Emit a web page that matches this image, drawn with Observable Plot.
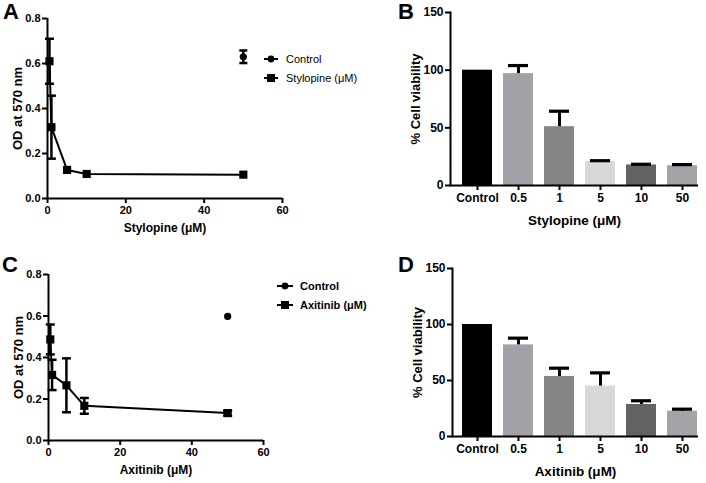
<!DOCTYPE html>
<html><head><meta charset="utf-8">
<script src="https://cdn.jsdelivr.net/npm/d3@7"></script>
<script src="https://cdn.jsdelivr.net/npm/@observablehq/plot@0.6"></script>
<style>
body{margin:0;background:#fff;font-family:"Liberation Sans",Arial,sans-serif;}
#fig{position:relative;width:706px;height:483px;overflow:hidden;background:#fff;}
.panel{position:absolute;}
.letter{position:absolute;font-weight:bold;font-size:22px;line-height:1;color:#000;}
.lrow{position:absolute;height:14px;display:flex;align-items:center;font-size:11px;color:#000;white-space:nowrap;}
</style></head><body><div id="fig"></div>
<script>
// ---- Data ----
// Panel A: Stylopine OD
const styConc = [0.5, 1, 5, 10, 50];
const styOD = [0.61, 0.317, 0.127, 0.109, 0.106];
const styErr = [0.10, 0.14, 0, 0, 0];
const ctrlAConc = [50];
const ctrlAOD = [0.63];
const ctrlAErr = [0.028];
// Panel C: Axitinib OD
const axConc = [0.5, 1, 5, 10, 50];
const axOD = [0.487, 0.316, 0.266, 0.167, 0.132];
const axErr = [0.072, 0.073, 0.13, 0.038, 0.012];
const ctrlCConc = [50];
const ctrlCOD = [0.598];
const ctrlCErr = [0];
// Panels B, D: viability
const categories = ["Control", "0.5", "1", "5", "10", "50"];
const styViab = [100, 97, 51, 20.7, 17.8, 17.2];
const styViabErr = [0, 7, 13.4, 0.8, 0.6, 0.9];
const axViab = [100, 81.8, 53.6, 45, 28.6, 22.6];
const axViabErr = [0, 6, 7.4, 11.8, 3.3, 1.8];
const barColors = ["#000000", "#a1a1a7", "#858585", "#d8d8d8", "#626262", "#a3a3a8"];
const odTicks = [0, 0.2, 0.4, 0.6, 0.8];
const concTicks = [0, 20, 40, 60];
const viabTicks = [0, 50, 100, 150];

const FONT = '"Liberation Sans", Arial, sans-serif';
const fig = document.getElementById("fig");

const capSym = {draw(ctx, size) { const w = Math.sqrt(size / Math.PI); ctx.moveTo(-w, 0); ctx.lineTo(w, 0); }};

function zipLine(c, v, e) { return c.map((x, i) => ({c: x, v: v[i], e: e[i]})); }

function linePanel({series, ctrl, xLabel, w, h, ml, mr, mt, mb}) {
  const errS = series.filter(d => d.e > 0);
  const errC = ctrl.filter(d => d.e > 0);
  return Plot.plot({
    width: w, height: h, marginLeft: ml, marginRight: mr, marginTop: mt, marginBottom: mb,
    style: {fontFamily: FONT, fontSize: "11px", fontWeight: "bold", color: "#000", background: "transparent", overflow: "visible"},
    x: {domain: [0, 60]},
    y: {domain: [0, 0.8]},
    marks: [
      Plot.axisX({ticks: concTicks, tickSize: 5, tickPadding: 3, strokeWidth: 2, label: null}),
      Plot.axisY({ticks: odTicks, tickFormat: d3.format(".1f"), tickSize: 5, tickPadding: 2, strokeWidth: 2, label: null}),
      Plot.ruleX([0], {strokeWidth: 2}),
      Plot.ruleY([0], {strokeWidth: 2}),
      Plot.line(series, {x: "c", y: "v", stroke: "#000", strokeWidth: 2}),
      Plot.ruleX(errS, {x: "c", y1: d => d.v - d.e, y2: d => d.v + d.e, stroke: "#000", strokeWidth: 2.5}),
      Plot.dot(errS, {x: "c", y: d => d.v + d.e, symbol: capSym, r: 4.5, stroke: "#000", fill: "none", strokeWidth: 2.5}),
      Plot.dot(errS, {x: "c", y: d => d.v - d.e, symbol: capSym, r: 4.5, stroke: "#000", fill: "none", strokeWidth: 2.5}),
      Plot.dot(series, {x: "c", y: "v", symbol: "square", r: 4.6, fill: "#000", stroke: "none"}),
      Plot.ruleX(errC, {x: "c", y1: d => d.v - d.e, y2: d => d.v + d.e, stroke: "#000", strokeWidth: 2.5}),
      Plot.dot(errC, {x: "c", y: d => d.v + d.e, symbol: capSym, r: 4, stroke: "#000", fill: "none", strokeWidth: 2.5}),
      Plot.dot(errC, {x: "c", y: d => d.v - d.e, symbol: capSym, r: 4, stroke: "#000", fill: "none", strokeWidth: 2.5}),
      Plot.dot(ctrl, {x: "c", y: "v", symbol: "circle", r: 3.6, fill: "#000", stroke: "none"}),
      Plot.text([xLabel], {text: d => d, frameAnchor: "bottom", dy: 30, lineAnchor: "middle", textAnchor: "middle", fontSize: 12, fontWeight: "bold"}),
      Plot.text(["OD at 570 nm"], {text: d => d, frameAnchor: "left", rotate: -90, dx: -30, textAnchor: "middle", lineAnchor: "middle", fontSize: 13, fontWeight: "bold"})
    ]
  });
}

function barPanel({vals, errs, xLabel, w, h, ml, mr, mt, mb}) {
  const rows = categories.map((c, i) => ({cat: c, v: vals[i], e: errs[i], col: barColors[i]}));
  const er = rows.filter(d => d.e > 0);
  return Plot.plot({
    width: w, height: h, marginLeft: ml, marginRight: mr, marginTop: mt, marginBottom: mb,
    style: {fontFamily: FONT, fontSize: "12px", fontWeight: "bold", color: "#000", background: "transparent", overflow: "visible"},
    x: {type: "band", domain: categories, paddingInner: 0.28, paddingOuter: 0.096, align: 0.875},
    y: {domain: [0, 150]},
    color: {type: "identity"},
    marks: [
      Plot.barY(rows, {x: "cat", y: "v", fill: "col"}),
      Plot.ruleX(er, {x: "cat", y1: "v", y2: d => d.v + d.e, stroke: "#000", strokeWidth: 3}),
      Plot.tickY(er, {x: "cat", y: d => d.v + d.e, stroke: "#000", strokeWidth: 3.2, inset: 5}),
      Plot.axisX({tickSize: 5, tickPadding: 3, strokeWidth: 2, label: null}),
      Plot.axisY({ticks: viabTicks, tickSize: 5, tickPadding: 2, strokeWidth: 2, label: null}),
      Plot.frame({anchor: "left", strokeWidth: 2}),
      Plot.ruleY([0], {strokeWidth: 2}),
      Plot.text([xLabel], {text: d => d, frameAnchor: "bottom", dy: 35, lineAnchor: "middle", textAnchor: "middle", fontSize: 13.5, fontWeight: "bold"}),
      Plot.text(["% Cell viability"], {text: d => d, frameAnchor: "left", rotate: -90, dx: -35, textAnchor: "middle", lineAnchor: "middle", fontSize: 13, fontWeight: "bold"})
    ]
  });
}

function place(el, left, top) {
  const d = document.createElement("div");
  d.className = "panel";
  d.style.left = left + "px"; d.style.top = top + "px";
  d.appendChild(el);
  fig.appendChild(d);
}

place(linePanel({series: zipLine(styConc, styOD, styErr), ctrl: zipLine(ctrlAConc, ctrlAOD, ctrlAErr),
  xLabel: "Stylopine (μM)", w: 353, h: 240, ml: 47, mr: 71, mt: 18, mb: 42}), 0, 0);
place(barPanel({vals: styViab, errs: styViabErr, xLabel: "Stylopine (μM)",
  w: 353, h: 240, ml: 97, mr: 8, mt: 12, mb: 55}), 353, 0);
place(linePanel({series: zipLine(axConc, axOD, axErr), ctrl: zipLine(ctrlCConc, ctrlCOD, ctrlCErr),
  xLabel: "Axitinib (μM)", w: 353, h: 243, ml: 48, mr: 90, mt: 34, mb: 43}), 0, 240);
place(barPanel({vals: axViab, errs: axViabErr, xLabel: "Axitinib (μM)",
  w: 353, h: 243, ml: 99, mr: 8, mt: 28, mb: 47}), 353, 240);

// panel letters
[["A", 3, 1], ["B", 398, 1], ["C", 2, 254], ["D", 398, 254]].forEach(([t, l, tp]) => {
  const d = document.createElement("div");
  d.className = "letter"; d.textContent = t;
  d.style.left = l + "px"; d.style.top = tp + "px";
  fig.appendChild(d);
});

// legends
function legendRow(label, symbol, left, textLeft, cy, bold, lw) {
  const row = document.createElement("div");
  row.className = "lrow";
  row.style.left = left + "px"; row.style.top = (cy - 7) + "px";
  if (bold) row.style.fontWeight = "bold";
  const mid = lw / 2;
  const mk = symbol === "circle"
    ? `<circle cx="${mid}" cy="7" r="3.4" fill="#000"/>`
    : `<rect x="${mid - 4}" y="3" width="8" height="8" fill="#000"/>`;
  row.innerHTML = `<svg width="${lw}" height="14" style="display:block"><line x1="0" x2="${lw}" y1="7" y2="7" stroke="#000" stroke-width="2"/>${mk}</svg><span style="margin-left:${textLeft - left - lw}px">${label}</span>`;
  fig.appendChild(row);
}
legendRow("Control", "circle", 264, 286, 59, false, 14);
legendRow("Stylopine (μM)", "square", 264, 286, 78, false, 14);
legendRow("Control", "circle", 277, 300, 286, true, 16);
legendRow("Axitinib (μM)", "square", 277, 300, 305, true, 16);
</script></body></html>
